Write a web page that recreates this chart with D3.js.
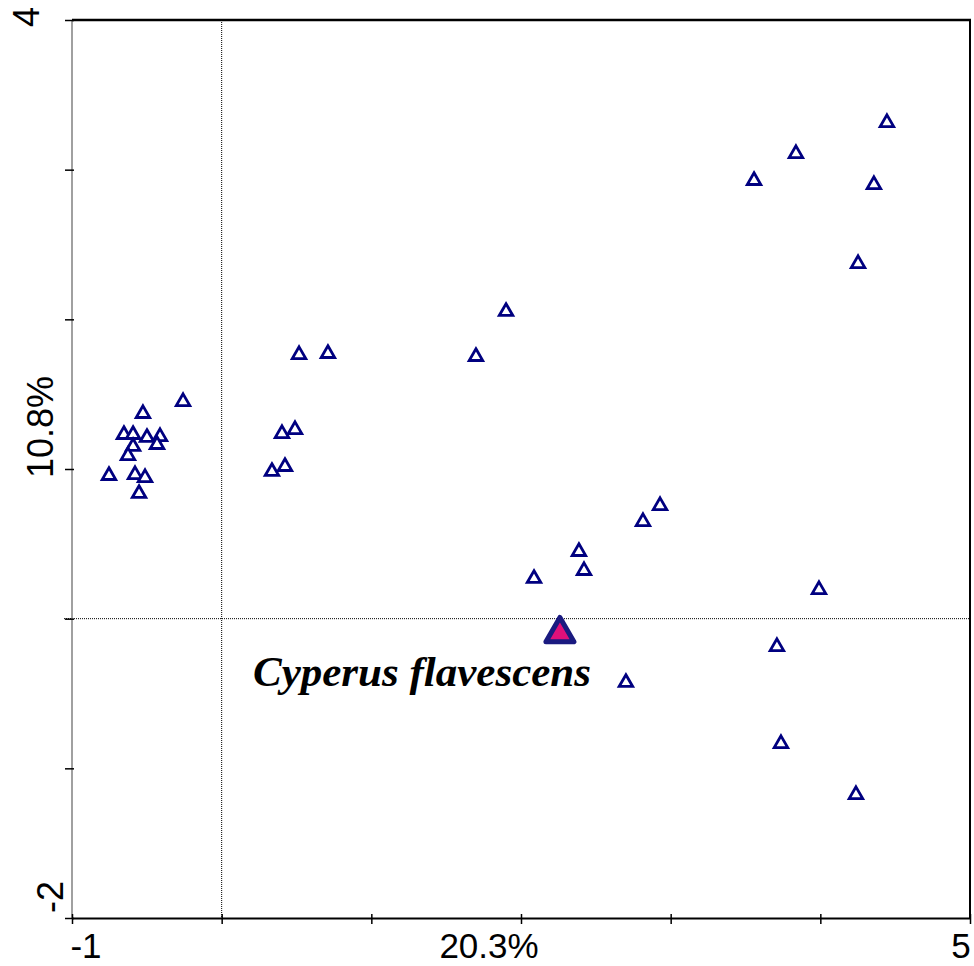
<!DOCTYPE html>
<html>
<head>
<meta charset="utf-8">
<script src="https://cdn.jsdelivr.net/npm/d3@7"></script>
<style>
  html, body { margin: 0; padding: 0; background: #fff; }
  svg { display: block; }
</style>
</head>
<body>
<script>
const width = 974;
const height = 966;

// species scores on ordination axes 1 and 2
const axis1 = [4.445, 3.837, 3.557, 4.358, 4.252, 1.900, 1.699, 0.517, 0.710,
  -0.258, -0.526, -0.653, -0.592, -0.499, -0.412, -0.432, -0.592, -0.626,
  -0.753, -0.579, -0.512, -0.552, 0.403, 0.490, 0.336, 0.423,
  2.929, 2.815, 2.387, 2.421, 2.087, 3.991, 3.710, 2.701, 3.737, 4.238];
const axis2 = [3.327, 3.120, 2.940, 2.913, 2.385, 2.065, 1.764, 1.777, 1.784,
  1.463, 1.383, 1.243, 1.243, 1.223, 1.229, 1.176, 1.163, 1.102,
  0.969, 0.975, 0.955, 0.849, 1.249, 1.276, 0.996, 1.029,
  0.768, 0.661, 0.461, 0.334, 0.281, 0.207, -0.174, -0.414, -0.822, -1.163];

// highlighted species
const focusName = "Cyperus flavescens";
const focusX = 2.260;
const focusY = -0.073;

const xTicks = [-1, 0, 1, 2, 3, 4, 5];
const yTicks = [-2, -1, 0, 1, 2, 3, 4];
const xTitle = "20.3%";
const yTitle = "10.8%";

const plot = { left: 72, right: 970, top: 20, bottom: 918 };

const x = d3.scaleLinear().domain([-1, 5]).range([plot.left, plot.right]);
const y = d3.scaleLinear().domain([-2, 4]).range([plot.bottom, plot.top]);

const svg = d3.select("body")
    .append("svg")
    .attr("width", width)
    .attr("height", height);

// zero lines
svg.append("line")
    .attr("x1", x(0)).attr("x2", x(0))
    .attr("y1", plot.top).attr("y2", plot.bottom)
    .attr("stroke", "#000").attr("stroke-width", 1)
    .attr("stroke-dasharray", "1,1");
svg.append("line")
    .attr("x1", plot.left - 8).attr("x2", plot.right)
    .attr("y1", y(0)).attr("y2", y(0))
    .attr("stroke", "#000").attr("stroke-width", 1)
    .attr("stroke-dasharray", "1,1");

// frame
svg.append("line")
    .attr("x1", plot.left).attr("x2", plot.left)
    .attr("y1", plot.top).attr("y2", plot.bottom)
    .attr("stroke", "#a0a0a0").attr("stroke-width", 2);
svg.append("line")
    .attr("x1", plot.left).attr("x2", plot.right + 1)
    .attr("y1", plot.top).attr("y2", plot.top)
    .attr("stroke", "#000").attr("stroke-width", 2.5);
svg.append("line")
    .attr("x1", plot.right).attr("x2", plot.right)
    .attr("y1", plot.top).attr("y2", plot.bottom)
    .attr("stroke", "#000").attr("stroke-width", 2);

// bottom axis
const xAxis = svg.append("g")
    .attr("transform", `translate(0,${plot.bottom})`)
    .call(d3.axisBottom(x).tickValues(xTicks).tickSize(6).tickSizeOuter(0).tickFormat(""));
xAxis.select(".domain").attr("stroke", "#000").attr("stroke-width", 2);
xAxis.selectAll(".tick line").attr("y1", -4).attr("stroke-width", 1.5);

// left axis ticks
const yAxis = svg.append("g")
    .attr("transform", `translate(${plot.left},0)`)
    .call(d3.axisLeft(y).tickValues(yTicks).tickSize(7).tickSizeOuter(0).tickFormat(""));
yAxis.select(".domain").remove();
yAxis.selectAll(".tick line").attr("x2", -7).attr("x1", 2).attr("stroke-width", 1.5);

const labelFont = "'Liberation Sans', Arial, sans-serif";

// x labels
const xLabels = [
  { text: "-1", cx: 86 },
  { text: xTitle, cx: 489 },
  { text: "5", cx: 961 }
];
svg.selectAll("text.xl")
  .data(xLabels)
  .join("text")
    .attr("class", "xl")
    .attr("x", d => d.cx)
    .attr("y", 958)
    .attr("text-anchor", "middle")
    .style("font-family", labelFont)
    .style("font-size", "35px")
    .text(d => d.text);

// y labels (rotated)
const yLabels = [
  { text: "4", bx: 39, cy: 17 },
  { text: yTitle, bx: 53, cy: 427 },
  { text: "-2", bx: 63, cy: 897 }
];
svg.selectAll("text.yl")
  .data(yLabels)
  .join("text")
    .attr("class", "yl")
    .attr("transform", d => `translate(${d.bx},${d.cy}) rotate(-90)`)
    .attr("text-anchor", "middle")
    .style("font-family", labelFont)
    .style("font-size", "36px")
    .text(d => d.text);

// triangle marker centred on its bounding box
function tri(s) {
  const h = s * Math.sqrt(3) / 2;
  return `M0,${-h / 2}L${s / 2},${h / 2}L${-s / 2},${h / 2}Z`;
}

const pts = axis1.map((v, i) => ({ a1: v, a2: axis2[i] }));

svg.append("g")
  .selectAll("path")
  .data(pts)
  .join("path")
    .attr("d", tri(13.5))
    .attr("transform", d => `translate(${x(d.a1)},${y(d.a2)})`)
    .attr("fill", "#fff")
    .attr("stroke", "#000080")
    .attr("stroke-width", 2.8);

svg.append("path")
    .attr("d", tri(28))
    .attr("transform", `translate(${x(focusX)},${y(focusY)})`)
    .attr("fill", "#e0107a")
    .attr("stroke", "#1a1a80")
    .attr("stroke-width", 5)
    .attr("stroke-linejoin", "round");

svg.append("text")
    .attr("x", 253)
    .attr("y", 686)
    .style("font-family", "'Liberation Serif', 'Times New Roman', serif")
    .style("font-weight", "bold")
    .style("font-style", "italic")
    .style("font-size", "43px")
    .text(focusName);
</script>
</body>
</html>
